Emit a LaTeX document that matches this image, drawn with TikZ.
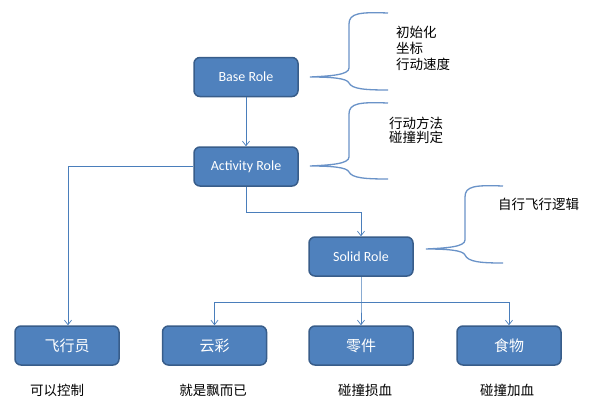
\documentclass[tikz,border=0pt]{standalone}
\usepackage{fontspec}
\setmainfont{Carlito}
\newfontfamily\cjk{Noto Sans CJK SC}
\usetikzlibrary{arrows.meta}
\definecolor{boxfill}{HTML}{4F81BD}
\definecolor{boxdraw}{HTML}{385D8A}
\definecolor{linecol}{HTML}{4A7EBB}
\definecolor{bracecol}{HTML}{6A93C8}
\tikzset{
  rolebox/.style={draw=boxdraw, line width=1.5pt, fill=boxfill, rounded corners=6pt,
    minimum width=104pt, minimum height=39pt, inner sep=0pt, text=white,
    font=\fontsize{14pt}{16pt}\selectfont},
  cjkbox/.style={rolebox, font=\cjk\fontsize{15pt}{17pt}\selectfont},
  conn/.style={draw=linecol, line width=0.8pt},
  arr/.style={conn, -{Straight Barb[length=4.5pt,width=7pt,line width=0.7pt]}},
  bracestyle/.style={draw=bracecol, line width=1.3pt},
  note/.style={font=\cjk\fontsize{13.5pt}{16pt}\selectfont, inner sep=0pt, anchor=west},
  subnote/.style={font=\cjk\fontsize{13.5pt}{16pt}\selectfont, inner sep=0pt},
}
\begin{document}
\begin{tikzpicture}[x=1pt,y=-1pt]
\useasboundingbox (0,0) rectangle (600,416);
\fill[white] (0,0) rectangle (600,416);
% boxes
\node[rolebox] (base) at (246,77) {Base Role};
\node[rolebox] (act) at (246,166.5) {Activity Role};
\node[rolebox] (solid) at (361,256.5) {Solid Role};
\node[cjkbox] (pilot) at (67,345.5) {飞行员};
\node[cjkbox] (cloud) at (214.5,345.5) {云彩};
\node[cjkbox] (part) at (361,345.5) {零件};
\node[cjkbox] (food) at (509,345.5) {食物};
% coordinates
\coordinate (c1) at (68,166.5);
\coordinate (c2) at (246,212);
\coordinate (c3) at (361,212);
\coordinate (c4) at (361,302);
\coordinate (c5) at (214.5,302);
\coordinate (c6) at (509,302);
% connectors
\draw[arr] (base) -- (act);
\draw[arr] (act.west) -- (c1) -- (c1 |- pilot.north);
\draw[arr] (act.south) -- (c2) -- (c3) -- (solid.north);
\draw[arr] (solid.south) -- (c4) -- (part.north);
\draw[conn] (c5) -- (c6);
\draw[arr] (c5) -- (cloud.north);
\draw[arr] (c6) -- (food.north);
% braces
\coordinate (b1t) at (388,13);
\coordinate (b1p) at (310,77);
\coordinate (b1b) at (388,90);
\draw[bracestyle] (b1t) .. controls (360,12) and (349,13) .. (349,24)
  -- (349,68) .. controls (349,75) and (330,76) .. (b1p)
  .. controls (330,77) and (347,78) .. (349,83)
  .. controls (352,89) and (365,90) .. (b1b);
\coordinate (b2t) at (388,103);
\coordinate (b2p) at (310,166);
\coordinate (b2b) at (388,179);
\draw[bracestyle] (b2t) .. controls (360,102) and (349,103) .. (349,114)
  -- (349,157) .. controls (349,164) and (330,165) .. (b2p)
  .. controls (330,166) and (347,167) .. (349,172)
  .. controls (352,178) and (365,179) .. (b2b);
\coordinate (b3t) at (503,186);
\coordinate (b3p) at (426,249);
\coordinate (b3b) at (503,263);
\draw[bracestyle] (b3t) .. controls (475,185) and (465,186) .. (465,197)
  -- (465,240) .. controls (465,247) and (446,248) .. (b3p)
  .. controls (446,249) and (463,250) .. (465,255)
  .. controls (468,262) and (481,263) .. (b3b);
% notes
\node[note] (n1) at (396,32) {初始化};
\node[note] (n2) at (396,48) {坐标};
\node[note] (n3) at (396,64) {行动速度};
\node[note] (n4) at (389,123) {行动方法};
\node[note] (n5) at (389,137) {碰撞判定};
\node[note] (n6) at (498,204) {自行飞行逻辑};
\node[subnote] (s1) at (57,390) {可以控制};
\node[subnote] (s2) at (213,390) {就是飘而已};
\node[subnote] (s3) at (365,390) {碰撞损血};
\node[subnote] (s4) at (507,390) {碰撞加血};
\end{tikzpicture}
\end{document}
